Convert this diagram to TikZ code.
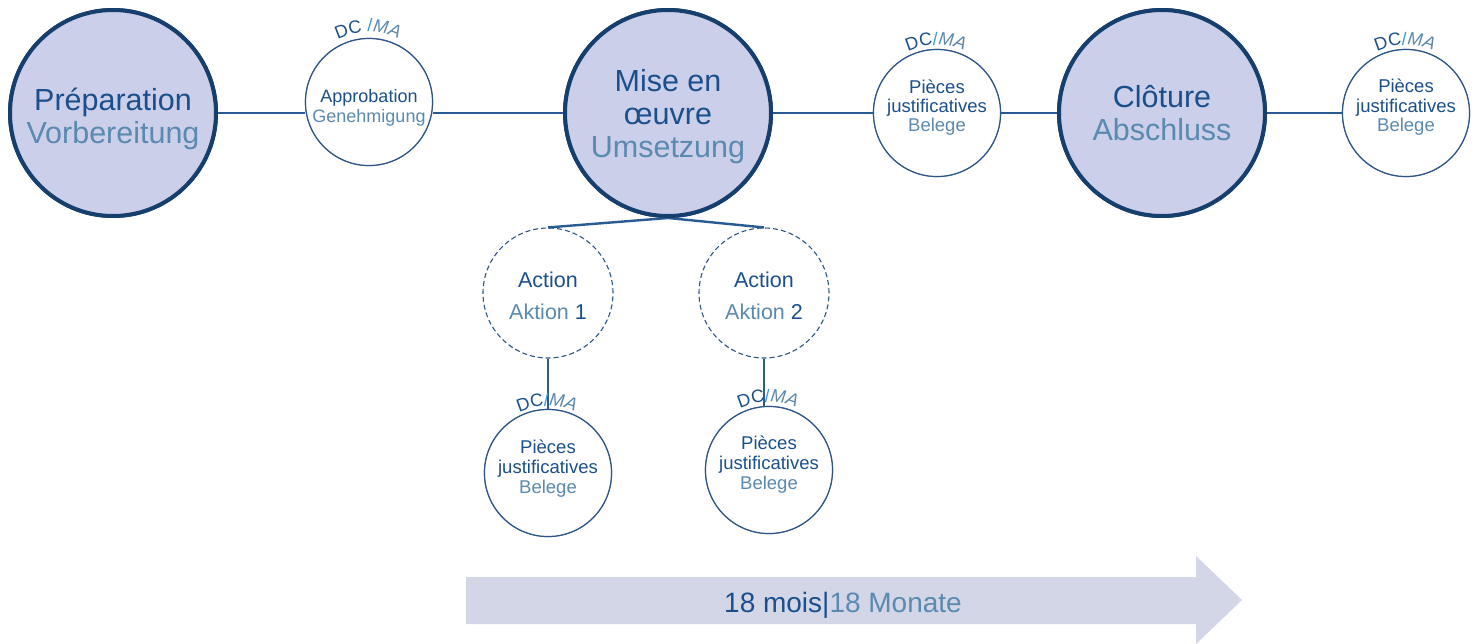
\documentclass[tikz,border=0pt]{standalone}
\usepackage{fontspec}
\setmainfont{Liberation Sans}
\usetikzlibrary{calc}
\definecolor{navy}{HTML}{173F6E}
\definecolor{thinc}{HTML}{2D5587}
\definecolor{connc}{HTML}{2A5A94}
\definecolor{fillc}{HTML}{CBCFE9}
\definecolor{darkt}{HTML}{1B4F8C}
\definecolor{lightt}{HTML}{5A8AB0}
\definecolor{dcslash}{HTML}{3A9AD8}
\definecolor{dcma}{HTML}{5B87AD}
\definecolor{arrowc}{HTML}{D2D6E6}
\newcommand\fsz[1]{\fontsize{#1}{#1}\selectfont}
\newcommand\dcmalbl[2]{%
 \node[dcl,text=darkt,rotate=19.8] (#1d1) at ($(#1)+(109.8:#2pt)$) {D};
 \node[dcl,text=darkt,rotate=8.9] (#1d2) at ($(#1)+(98.9:#2pt)$) {C};
 \node[dcl,text=dcslash,rotate=1.3] (#1d3) at ($(#1)+(91.3:#2pt)$) {/};
 \node[dcl,text=dcma,rotate=-7.2] (#1d4) at ($(#1)+(82.8:#2pt)$) {\itshape M};
 \node[dcl,text=dcma,rotate=-18.5] (#1d5) at ($(#1)+(71.5:#2pt)$) {\itshape A};
}
\begin{document}
\begin{tikzpicture}[x=1pt,y=-1pt,
  bigc/.style={circle,draw=navy,line width=4pt,fill=fillc,minimum size=206pt,inner sep=0},
  smallc/.style={circle,draw=thinc,line width=1.2pt,fill=white,minimum size=127pt,inner sep=0},
  actc/.style={circle,draw=thinc,line width=1.1pt,dash pattern=on 5pt off 3pt,minimum size=130pt,inner sep=0},
  conn/.style={draw=connc,line width=1.8pt},
  aconn/.style={draw=connc,line width=2.4pt},
  txt/.style={anchor=base,inner sep=0},
  bigt/.style={txt,font=\fsz{30.5}},
  medt/.style={txt,font=\fsz{21.5}},
  smt/.style={txt,font=\fsz{18.5}},
  dcl/.style={anchor=base,inner sep=0,font=\fsz{18}},
]
\useasboundingbox (0,0) rectangle (1476,643);

% arrow
\fill[arrowc] (466,577) -- (1196,577) -- (1196,556) -- (1242,600) -- (1196,644) -- (1196,624) -- (466,624) -- cycle;
\node[txt,font=\fsz{28}] (dur) at (843,612) {\textcolor{darkt}{18 mois|}\textcolor{lightt}{18 Monate}};

% connectors (drawn first)
\node[bigc] (prep) at (113,113) {};
\node[smallc] (appr) at (369,102) {};
\node[bigc] (mise) at (668,113) {};
\node[smallc] (pc1) at (937,113) {};
\node[bigc] (clot) at (1162,113) {};
\node[smallc] (pc3) at (1406,113) {};
\node[actc] (act1) at (548,293) {};
\node[actc] (act2) at (764,293) {};
\node[smallc] (pc4) at (548,473) {};
\node[smallc] (pc5) at (769,470) {};

\begin{scope}[on background layer/.style={}]
\draw[conn] (prep.east) -- (prep.east -| appr.west);
\draw[conn] (appr.east |- mise.west) -- (mise.west);
\draw[conn] (mise.east) -- (pc1.west);
\draw[conn] (pc1.east) -- (clot.west);
\draw[conn] (clot.east) -- (pc3.west);
\draw[aconn] (mise.south) -- (act1.north);
\draw[aconn] (mise.south) -- (act2.north);
\draw[conn] (act1.south) -- (pc4.north);
\draw[conn] (act2.south) -- (act2.south |- pc5.north);
\end{scope}

% redraw circles on top of connectors
\node[bigc] at (prep) {};
\node[smallc] at (appr) {};
\node[bigc] at (mise) {};
\node[smallc] at (pc1) {};
\node[bigc] at (clot) {};
\node[smallc] at (pc3) {};
\node[smallc] at (pc4) {};
\node[smallc] at (pc5) {};

% big texts
\node[bigt,text=darkt] (t1) at (113,110) {Préparation};
\node[bigt,text=lightt] (t2) at (113,143) {Vorbereitung};
\node[bigt,text=darkt] (t3) at (668,91) {Mise en};
\node[bigt,text=darkt] (t4) at (668,124) {œuvre};
\node[bigt,text=lightt] (t5) at (668,157) {Umsetzung};
\node[bigt,text=darkt] (t6) at (1162,107) {Clôture};
\node[bigt,text=lightt] (t7) at (1162,140) {Abschluss};

% approbation
\node[txt,font=\fsz{18},text=darkt] (t8) at (369,102) {Approbation};
\node[txt,font=\fsz{18},text=lightt] (t9) at (369,122) {Genehmigung};

% pieces
\node[smt,text=darkt] (p1a) at (937,93) {Pièces};
\node[smt,text=darkt] (p1b) at (937,112) {justificatives};
\node[smt,text=lightt] (p1c) at (937,131) {Belege};
\node[smt,text=darkt] (p3a) at (1406,92) {Pièces};
\node[smt,text=darkt] (p3b) at (1406,112) {justificatives};
\node[smt,text=lightt] (p3c) at (1406,131) {Belege};
\node[smt,text=darkt] (p4a) at (548,453) {Pièces};
\node[smt,text=darkt] (p4b) at (548,473) {justificatives};
\node[smt,text=lightt] (p4c) at (548,493) {Belege};
\node[smt,text=darkt] (p5a) at (769,449) {Pièces};
\node[smt,text=darkt] (p5b) at (769,469) {justificatives};
\node[smt,text=lightt] (p5c) at (769,489) {Belege};

% actions
\node[medt,text=darkt] (a1a) at (548,287) {Action};
\node[medt] (a1b) at (548,319) {\textcolor{lightt}{Aktion} \textcolor{darkt}{1}};
\node[medt,text=darkt] (a2a) at (764,287) {Action};
\node[medt] (a2b) at (764,319) {\textcolor{lightt}{Aktion} \textcolor{darkt}{2}};

% DC/MA labels
\node[dcl,text=darkt,rotate=21.3] (ad1) at ($(appr)+(111.3:70pt)$) {D};
\node[dcl,text=darkt,rotate=10.6] (ad2) at ($(appr)+(100.6:70pt)$) {C};
\node[dcl,text=dcslash,rotate=-0.8] (ad3) at ($(appr)+(89.2:70pt)$) {/};
\node[dcl,text=dcma,rotate=-9] (ad4) at ($(appr)+(81:70pt)$) {\itshape M};
\node[dcl,text=dcma,rotate=-20] (ad5) at ($(appr)+(70:70pt)$) {\itshape A};
\dcmalbl{pc1}{68}
\dcmalbl{pc3}{68}
\dcmalbl{pc4}{67}
\dcmalbl{pc5}{68}
\end{tikzpicture}
\end{document}
